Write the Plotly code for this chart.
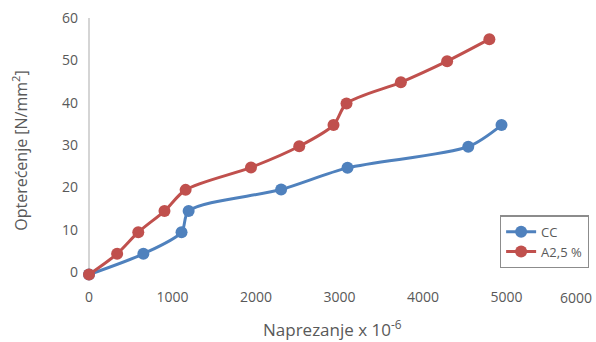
import plotly.graph_objects as go

# Strain (x 10^-6) and load (N/mm^2) readings for each mix
cc_strain = [0, 651, 1108, 1193, 2301, 3096, 4542, 4940]
cc_load = [-0.6, 4.3, 9.4, 14.4, 19.5, 24.6, 29.6, 34.7]

a25_strain = [0, 337, 590, 904, 1157, 1940, 2518, 2928, 3084, 3735, 4289, 4795]
a25_load = [-0.6, 4.3, 9.4, 14.4, 19.4, 24.7, 29.7, 34.7, 39.8, 44.8, 49.8, 55.0]

x_ticks = [0, 1000, 2000, 3000, 4000, 5000, 6000]
y_ticks = [0, 10, 20, 30, 40, 50, 60]

BLUE = "#4F81BD"
RED = "#C0504D"
TEXT = "#595959"
FONT = "Open Sans"

fig = go.Figure()
fig.add_trace(go.Scatter(
    x=cc_strain, y=cc_load, name="CC", mode="lines+markers",
    line=dict(color=BLUE, width=3, shape="spline", smoothing=0.8),
    marker=dict(color=BLUE, size=12), cliponaxis=False,
))
fig.add_trace(go.Scatter(
    x=a25_strain, y=a25_load, name="A2,5 %", mode="lines+markers",
    line=dict(color=RED, width=3, shape="spline", smoothing=0.8),
    marker=dict(color=RED, size=12), cliponaxis=False,
))

# vertical value-axis line from 0 to 60
fig.add_shape(type="line", xref="paper", yref="y", x0=0, x1=0, y0=0, y1=60,
              line=dict(color="#BFBFBF", width=1.3), layer="below")

# last category label sits inside the page edge
fig.add_annotation(x=x_ticks[-1], xref="x", y=0, yref="paper", text=str(x_ticks[-1]),
                   showarrow=False, xanchor="right", yanchor="top", xshift=4, yshift=-3,
                   font=dict(size=14, color=TEXT))

# horizontal axis title
fig.add_annotation(x=0.486, xref="paper", y=0, yref="paper", text="Naprezanje x 10<sup>-6</sup>",
                   showarrow=False, xanchor="center", yanchor="top", yshift=-31,
                   font=dict(size=17, color=TEXT))

fig.update_layout(
    width=596, height=342,
    margin=dict(l=89, r=6, t=18, b=59),
    paper_bgcolor="white", plot_bgcolor="white",
    font=dict(family=FONT, color=TEXT, size=14),
    xaxis=dict(
        range=[0, 6000], tickvals=x_ticks[:-1], ticktext=[str(v) for v in x_ticks[:-1]],
        showgrid=False, zeroline=False, showline=False, automargin=False,
        tickfont=dict(size=14, color=TEXT), ticklabelstandoff=4,
    ),
    yaxis=dict(
        range=[-2.6, 60], tickvals=y_ticks, ticktext=[str(v) for v in y_ticks],
        showgrid=False, zeroline=False, showline=False, automargin=False,
        tickfont=dict(size=14, color=TEXT), ticklabelstandoff=10,
        title=dict(text="Opterećenje [N/mm<sup>2</sup>]", font=dict(size=16, color=TEXT), standoff=30),
    ),
    legend=dict(
        x=0.82, y=0.255, xanchor="left", yanchor="top",
        bgcolor="white", bordercolor="#8C8C8C", borderwidth=1.3,
        font=dict(size=13, color=TEXT), itemwidth=30, tracegroupgap=0,
    ),
    showlegend=True,
)

fig.write_html("out.html")
